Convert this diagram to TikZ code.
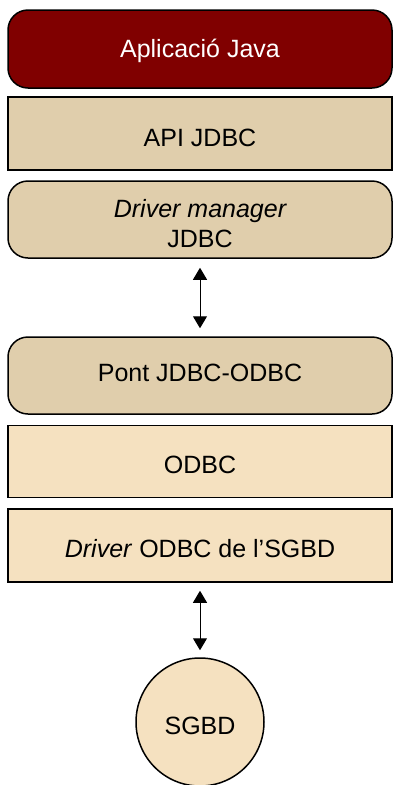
\documentclass[tikz,border=0pt]{standalone}
\usepackage{fontspec}
\setmainfont{Liberation Sans}
\usetikzlibrary{arrows.meta}
\definecolor{appred}{HTML}{800000}
\definecolor{tan}{HTML}{E0CEAC}
\definecolor{sand}{HTML}{F5E1C0}
\begin{document}
\begin{tikzpicture}[x=1pt,y=-1pt,
  layer/.style={draw=black, line width=1.5pt, minimum width=384pt, inner sep=0pt,
    align=center, font=\fontsize{25}{30}\selectfont},
  roundlayer/.style={layer, rounded corners=20pt},
  % text height/depth set where the label sits in its layer
  lift/.style={text height=#1, text depth=0pt},
  link/.style={line width=1pt, {Triangle[length=12pt,width=14pt]}-{Triangle[length=12pt,width=14pt]}}]
\useasboundingbox (0,0) rectangle (393,785);
\node[roundlayer, fill=appred, text=white, minimum height=78pt, lift=16.5pt] (app) at (200,49) {Aplicació Java};
\node[layer, fill=tan, minimum height=73pt, lift=26pt] (api) at (200,133.5) {API JDBC};
\node[roundlayer, fill=tan, minimum height=77pt, lift=55pt] (dm) at (200,219.5) {\itshape Driver manager\\JDBC};
\node[roundlayer, fill=tan, minimum height=77pt, lift=12pt] (pont) at (200,375.5) {Pont JDBC-ODBC};
\node[layer, fill=sand, minimum height=72pt, lift=24pt] (odbc) at (200,461.5) {ODBC};
\node[layer, fill=sand, minimum height=73pt, lift=24pt] (drv) at (200,545.5) {\textit{Driver} ODBC de l’SGBD};
\node[circle, draw=black, line width=1.5pt, fill=sand, minimum size=128pt, inner sep=0pt,
  font=\fontsize{25}{30}\selectfont, lift=24pt] (sgbd) at (200,722) {SGBD};
\draw[link, shorten <=9pt, shorten >=8pt] (dm.south) -- (pont.north);
\draw[link, shorten <=8pt, shorten >=7pt] (drv.south) -- (sgbd.north);
\end{tikzpicture}
\end{document}
